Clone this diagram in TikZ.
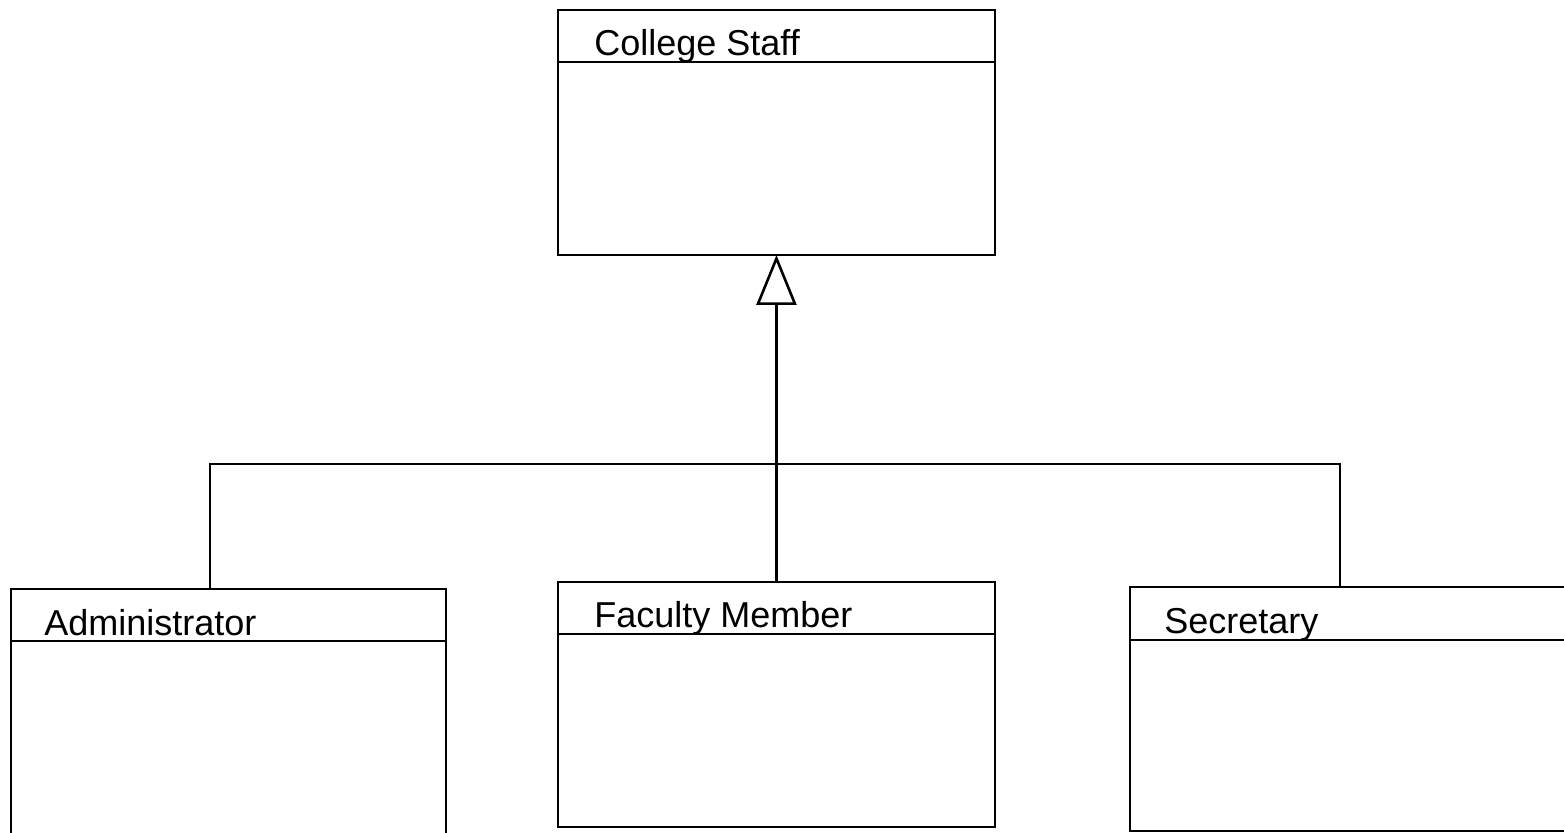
\documentclass[tikz,border=0pt]{standalone}
\usepackage{fontspec}
\setmainfont{Liberation Sans}
\usetikzlibrary{arrows.meta,positioning}

\begin{document}
\begin{tikzpicture}[x=0.02cm, y=-0.02cm, line width=0.052cm]

    \tikzstyle{cbox} = [draw, rectangle, inner sep=0pt, outer sep=0pt, anchor=north west]
    \tikzstyle{cname} = [inner sep=0pt, anchor=base west, font=\fontsize{20.5}{24}\selectfont]
    \useasboundingbox (0,0) rectangle (1564,832);

    % class boxes
    \node[cbox, minimum width=8.74cm, minimum height=4.9cm] (staff) at (558,10) {};
    \node[cbox, minimum width=8.7cm, minimum height=5.2cm] (admin) at (11,589) {};
    \node[cbox, minimum width=8.74cm, minimum height=4.9cm] (faculty) at (558,582) {};
    \node[cbox, minimum width=9cm, minimum height=4.88cm] (secretary) at (1130,587) {};

    \node[cname] (staffname) at (593,55) {College Staff};
    \node[cname] (adminname) at (43,635) {Administrator};
    \node[cname] (facultyname) at (593,627) {Faculty Member};
    \node[cname] (secretaryname) at (1163,633) {Secretary};

    % name compartments
    \draw ([yshift=-1.04cm]staff.north west) -- ([yshift=-1.04cm]staff.north east);
    \draw ([yshift=-1.04cm]admin.north west) -- ([yshift=-1.04cm]admin.north east);
    \draw ([yshift=-1.04cm]faculty.north west) -- ([yshift=-1.04cm]faculty.north east);
    \draw ([yshift=-1.06cm]secretary.north west) -- ([yshift=-1.06cm]secretary.north east);

    % generalization
    \coordinate (ja) at (210,464);
    \coordinate (js) at (1340,464);
    \draw[-{Triangle[open,length=1.0cm,width=0.8cm]}] (faculty.north) -- (staff.south);
    \draw (admin.north -| ja) -- (ja) -- (js) -- (secretary.north -| js);

\end{tikzpicture}
\end{document}
